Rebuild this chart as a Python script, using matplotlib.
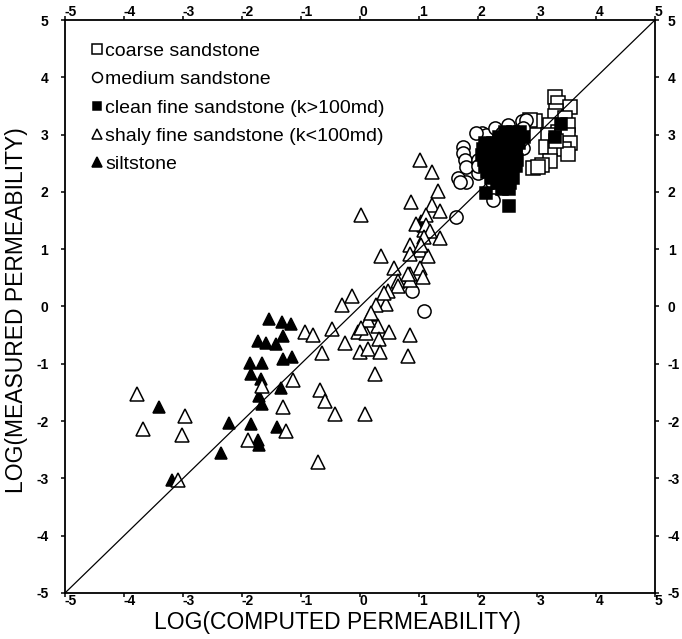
import matplotlib
matplotlib.use('Agg')
import matplotlib.pyplot as plt
from matplotlib.transforms import ScaledTranslation

plt.rcParams['font.family'] = ['Liberation Sans', 'DejaVu Sans']
plt.rcParams['axes.unicode_minus'] = False

# log computed (x) vs log measured (y) permeability
coarse_x = [3.31, 3.36, 3.56, 2.96, 3.33, 3.31, 3.48, 3.22, 3.53, 3.36, 3.19, 3.53,
            3.56, 3.16, 3.31, 3.45, 3.53, 3.22, 3.08, 2.94, 3.02, 3.33, 2.88]
coarse_y = [3.65, 3.56, 3.49, 3.23, 3.41, 3.32, 3.29, 3.17, 3.17, 3.05, 3.00, 3.00,
            2.85, 2.79, 2.76, 2.74, 2.66, 2.54, 2.47, 2.41, 2.44, 2.88, 3.26]

medium_x = [1.75, 1.75, 1.78, 1.80, 1.66, 1.80, 2.00, 2.06, 2.14, 2.29, 2.51, 2.74,
            2.82, 2.77, 2.17, 2.29, 2.43, 2.57, 2.77, 2.23, 2.26, 2.00, 2.40, 1.63,
            0.88, 1.08, 1.97, 2.00, 1.69]
medium_y = [2.79, 2.68, 2.56, 2.44, 2.24, 2.18, 2.33, 3.02, 3.00, 3.11, 3.17, 3.23,
            3.26, 3.11, 2.74, 2.74, 2.76, 2.74, 2.76, 2.18, 1.86, 2.56, 3.02, 1.56,
            0.27, -0.08, 3.02, 2.45, 2.18]

clean_x = [2.45, 2.60, 2.72,
           2.35, 2.50, 2.65, 2.78,
           2.12, 2.25, 2.40, 2.55, 2.70,
           2.08, 2.22, 2.36, 2.50, 2.64,
           2.06, 2.20, 2.35, 2.50, 2.64,
           2.10, 2.25, 2.40, 2.55, 2.66,
           2.12, 2.26, 2.40, 2.54, 2.64,
           2.16, 2.30, 2.44, 2.58,
           2.22, 2.36, 2.50, 2.60,
           2.32, 2.45, 2.55,
           2.40, 2.52,
           2.13, 2.53, 3.40, 3.30]
clean_y = [3.05, 3.05, 3.05,
           2.95, 2.95, 2.95, 2.95,
           2.85, 2.85, 2.85, 2.85, 2.85,
           2.75, 2.75, 2.75, 2.75, 2.75,
           2.65, 2.65, 2.65, 2.65, 2.65,
           2.55, 2.55, 2.55, 2.55, 2.55,
           2.45, 2.45, 2.45, 2.45, 2.45,
           2.35, 2.35, 2.35, 2.35,
           2.25, 2.25, 2.25, 2.25,
           2.15, 2.15, 2.15,
           2.05, 2.05,
           1.98, 1.76, 3.18, 2.95]

shaly_x = [-0.13, -0.30, -0.94, -0.80, -0.48, -0.04, 0.10, 0.30, 0.33, -0.25, -0.64,
           0.00, 0.13, 0.34, 0.25, -1.14, -1.66, -0.67, -0.60, -1.30, -0.42, 0.08,
           -3.78, -2.97, -3.67, -3.02, -1.25, -1.89, -0.71, -3.09,
           1.01, 1.22, 1.32, 0.87, 1.22, 1.35, 0.01, 1.12, 0.95, 1.09, 1.35, 0.84,
           1.01, 0.84, 0.35, 1.15, 0.58, 1.02, 0.84, 1.06, 0.64, 0.84, 0.64, 0.47,
           0.44, 0.27, 0.13, 0.01,
           1.12, 1.18, 1.09, 1.04, 0.18, 0.50, 0.84, 0.81, 0.41, 0.81]
shaly_y = [0.18, 0.03, -0.44, -0.49, -0.40, -0.44, -0.47, -0.34, -0.57, -0.63, -0.81,
           -0.79, -0.74, -0.79, -1.17, -1.29, -1.39, -1.45, -1.65, -1.75, -1.88, -1.88,
           -1.53, -1.91, -2.13, -2.24, -2.18, -2.33, -2.72, -3.03,
           2.56, 2.34, 2.01, 1.83, 1.78, 1.66, 1.60, 1.59, 1.44, 1.34, 1.20, 1.08,
           0.99, 0.91, 0.89, 0.88, 0.67, 0.67, 0.57, 0.51, 0.45, 0.47, 0.35, 0.27,
           0.05, 0.03, -0.23, -0.37,
           1.43, 1.31, 1.22, 1.08, -0.11, -0.44, -0.50, -0.87, 0.24, 0.56]

silt_x = [-1.54, -1.32, -1.17, -1.31, -1.73, -1.60, -1.42, -1.87, -1.66, -1.30, -1.15,
          -1.84, -1.67, -1.34, -1.72, -1.66, -3.40, -2.22, -1.85, -1.41, -1.73, -1.71,
          -2.36, -3.18, 0.17, 1.06, 1.04]
silt_y = [-0.21, -0.27, -0.30, -0.52, -0.60, -0.64, -0.66, -0.99, -0.98, -0.92, -0.88,
          -1.17, -1.27, -1.42, -1.56, -1.71, -1.75, -2.04, -2.05, -2.10, -2.33, -2.42,
          -2.55, -3.03, -0.15, 1.40, 1.50]

ticks = [-5, -4, -3, -2, -1, 0, 1, 2, 3, 4, 5]

fig = plt.figure(figsize=(6.82, 6.39), dpi=100)
ax = fig.add_axes([0.0953, 0.072, 0.8651, 0.8967])

mk = dict(ls='none', mec='black', mew=1.1)
ax.plot(coarse_x, coarse_y, marker='s', ms=9.5, mfc='white', zorder=3,
        label='coarse sandstone', **mk)
ax.plot(medium_x, medium_y, marker='o', ms=9.5, mfc='white', zorder=3,
        label='medium sandstone', **mk)
ax.plot(clean_x, clean_y, marker='s', ms=8, mfc='black', zorder=4,
        label='clean fine sandstone (k>100md)', **mk)
ax.plot(shaly_x, shaly_y, marker='^', ms=10, mfc='white', zorder=5,
        label='shaly fine sandstone (k<100md)', **mk)
ax.plot(silt_x, silt_y, marker='^', ms=9, mfc='black', zorder=4,
        label='siltstone', **mk)

ax.plot([-5, 5], [-5, 5], color='black', lw=0.9, zorder=6)

ax.set_xlim(-5, 5)
ax.set_ylim(-5, 5)
ax.set_xticks(ticks, labels=[str(t) for t in ticks])
ax.set_yticks(ticks, labels=[str(t) for t in ticks])
for s in ax.spines.values():
    s.set_linewidth(1.3)

ax.tick_params(direction='out', length=3, width=1.1, top=True, right=True,
               labeltop=True, labelright=True, labelsize=10)
ax.tick_params(axis='x', pad=-2.5)
ax.tick_params(axis='y', pad=9)
shift = ScaledTranslation(-4 / 100, 0, fig.dpi_scale_trans)
for t in ax.xaxis.get_major_ticks():
    for lab in (t.label1, t.label2):
        lab.set_ha('left')
        lab.set_fontweight('bold')
for t in ax.yaxis.get_major_ticks():
    t.label1.set_fontweight('bold')
    t.label2.set_fontweight('bold')
    t.label2.set_transform(t.label2.get_transform() + shift)

ax.legend(loc='upper left', bbox_to_anchor=(0.045, 0.961), frameon=False,
          fontsize=14, markerscale=0.75, handlelength=0.6, handletextpad=0.1,
          labelspacing=0.55, borderpad=0, borderaxespad=0)

fig.text(337 / 682, 1 - 623 / 639, 'LOG(COMPUTED PERMEABILITY)', fontsize=16.5,
         ha='center', va='center')
fig.text(17 / 682, 1 - 310 / 639, 'LOG(MEASURED PERMEABILITY)', fontsize=16.5,
         ha='center', va='center', rotation=90)

fig.savefig('out.png', dpi=100)
